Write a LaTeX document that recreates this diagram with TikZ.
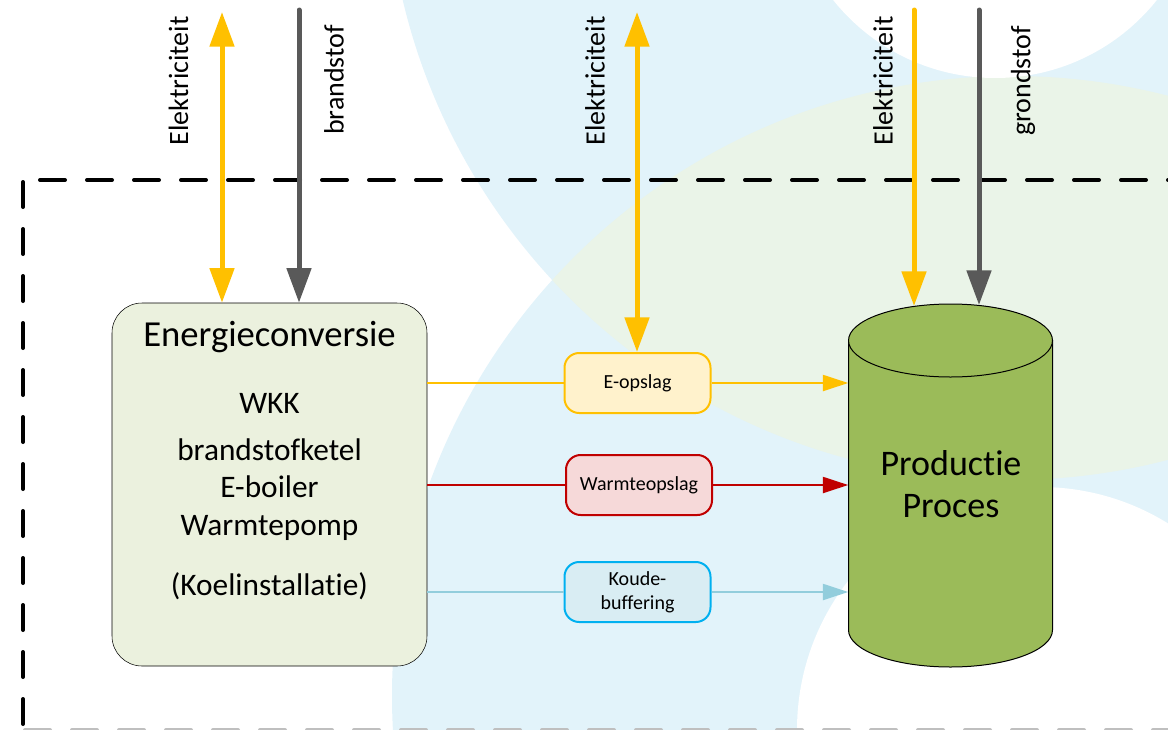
\documentclass[tikz,border=0pt]{standalone}
\usepackage{fontspec}
\setmainfont{Carlito}[Ligatures=CommonOff]
\usetikzlibrary{arrows.meta,calc}

\definecolor{elec}{HTML}{FFC000}
\definecolor{fuel}{HTML}{595959}
\definecolor{heat}{HTML}{C00000}
\definecolor{cold}{HTML}{92CDDC}
\definecolor{coldline}{HTML}{00B0F0}
\definecolor{bgblue}{RGB}{226,243,250}
\definecolor{bggreen}{RGB}{234,244,232}
\definecolor{convfill}{HTML}{EBF1DE}
\definecolor{prodfill}{HTML}{9BBB59}
\newdimen\pxu \pxu=0.75pt

\begin{document}
\begin{tikzpicture}[x=0.75pt,y=-0.75pt,
    frame/.style={line width=4\pxu,line cap=round,dash pattern=on 25\pxu off 22\pxu},
    bigflow/.style={line width=5\pxu,line cap=round,>={Triangle[width=18pt,length=26pt]}},
    flow/.style={line width=2\pxu,>={Triangle[width=12pt,length=19pt]}},
    lbl/.style={rotate=90,inner sep=0pt,font=\fontsize{21}{25}\selectfont},
    store/.style={rounded corners=11pt,line width=2\pxu,minimum width=146\pxu,%
      minimum height=60\pxu,align=center,font=\fontsize{15}{18}\selectfont},
    item/.style={anchor=base,inner sep=0pt,font=\fontsize{23.5}{28}\selectfont}]
  \useasboundingbox (0,0) rectangle (1168,729);
  % background rings
  \begin{scope}
    \clip (0,0) rectangle (1168,729);
    \fill[bgblue] (1010,-144) circle (624);
    \fill[bgblue] (1012,696) circle (620);
    \begin{scope}
      \clip (1010,-144) circle (624);
      \fill[bggreen] (1012,696) circle (620);
    \end{scope}
    \fill[white] (995,-129) circle (207);
    \fill[white] (1040,730) circle (243);
  \end{scope}
  % system boundary
  \draw[frame] (23,182) -- (23,740);
  \draw[frame] (40,180) -- (1180,180);
  \draw[frame,black!25] (25,730) -- (1180,730);
  % energy conversion
  \node[draw,fill=convfill,rounded corners=22.5pt,minimum width=315\pxu,%
    minimum height=363\pxu] (B0) at (269.5,484.5) {};
  \node[item,font=\fontsize{27.5}{32}\selectfont] (H0) at (269.5,346) {Energieconversie};
  \node[item] (W1) at (269.5,413) {WKK};
  \node[item] (W2) at (269.5,460) {brandstofketel};
  \node[item] (W3) at (269.5,497) {E-boiler};
  \node[item] (W4) at (269.5,535) {Warmtepomp};
  \node[item] (W5) at (269.5,595) {(Koelinstallatie)};
  % production process
  \filldraw[fill=prodfill,draw=black,line width=1\pxu] (848.5,340.5) -- (848.5,630) %
    arc[start angle=180,end angle=0,x radius=102,y radius=37] -- (1052.5,340.5) -- cycle;
  \filldraw[fill=prodfill,line width=1\pxu] (950.5,340.5) ellipse[x radius=102,y radius=36.5];
  \node[inner sep=0pt,minimum width=204\pxu,minimum height=364\pxu] (C0) at (950.5,485) {};
  \node[item,font=\fontsize{27}{32}\selectfont] (P1) at (951,475) {Productie};
  \node[item,font=\fontsize{27}{32}\selectfont] (P2) at (951,517) {Proces};
  % storage
  \node[store,draw=elec,fill=elec!20] (S1) at (637.5,383) {E-opslag};
  \node[store,draw=heat,fill=heat!15] (S2) at (639,485) {Warmteopslag};
  \node[store,draw=coldline,fill=cold!35] (S3) at (637.5,592) {Koude-\\buffering};
  \draw[flow,elec] (B0.east |- S1) -- (S1);
  \draw[flow,elec,->] (S1) -- (S1 -| C0.west);
  \draw[flow,heat] (B0.east |- S2) -- (S2);
  \draw[flow,heat,->] (S2) -- (S2 -| C0.west);
  \draw[flow,cold] (B0.east |- S3) -- (S3);
  \draw[flow,cold,->] (S3) -- (S3 -| C0.west);
  % supplies
  \coordinate (T1) at (222,12);
  \coordinate (T2) at (299,10);
  \coordinate (T3) at (637,12);
  \coordinate (T4) at (914,10);
  \coordinate (T5) at (979,10);
  \coordinate (D4) at (914,306);
  \coordinate (D5) at (979,305);
  \draw[bigflow,elec,<->] (T1) -- (T1 |- B0.north);
  \draw[bigflow,fuel,->] (T2) -- (T2 |- B0.north);
  \draw[bigflow,elec,<->] (T3) -- (T3 |- S1.north);
  \draw[bigflow,elec,->] (T4) -- (D4);
  \draw[bigflow,fuel,->] (T5) -- (D5);
  \node[lbl] (L1) at (178.5,81) {Elektriciteit};
  \node[lbl] (L2) at (334,80) {brandstof};
  \node[lbl] (L3) at (595,81) {Elektriciteit};
  \node[lbl] (L4) at (883,81) {Elektriciteit};
  \node[lbl] (L5) at (1023,81) {grondstof};
\end{tikzpicture}
\end{document}
